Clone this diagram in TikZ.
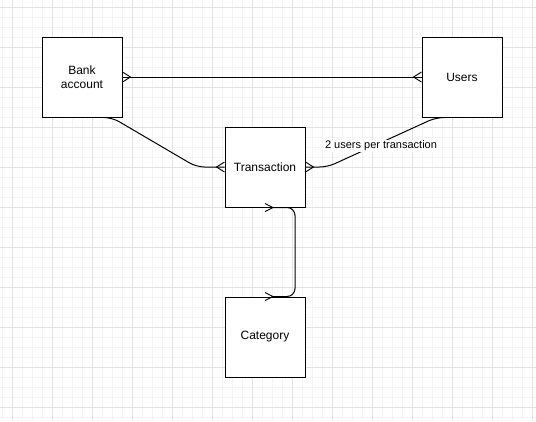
\documentclass[tikz,border=0pt]{standalone}
\usepackage{fontspec}
\setmainfont{Liberation Sans}
\definecolor{gminor}{HTML}{F4F4F4}
\definecolor{gmajor}{HTML}{E3E3E3}
\begin{document}
\begin{tikzpicture}[x=1pt,y=-1pt,
  entity/.style={draw=black, line width=1pt, fill=white, minimum width=80pt, minimum height=80pt, inner sep=0pt, align=center, font=\fontsize{12}{14}\selectfont},
  conn/.style={draw=black, line width=1pt, rounded corners=8pt},
  foot/.style={draw=black, line width=0.9pt},
  lbl/.style={fill=white, inner sep=1pt, font=\fontsize{11}{13}\selectfont}]
\useasboundingbox (0,0) rectangle (536,421);
\fill[white] (0,0) rectangle (536,421);
\foreach \x in {2,12,...,532} \draw[gminor, line width=1pt] (\x,0) -- (\x,421);
\foreach \y in {7,17,...,417} \draw[gminor, line width=1pt] (0,\y) -- (536,\y);
\foreach \x in {12,52,...,532} \draw[gmajor, line width=1pt] (\x,0) -- (\x,421);
\foreach \y in {7,47,...,407} \draw[gmajor, line width=1pt] (0,\y) -- (536,\y);

\node[entity] (Bank) at (82,77) {Bank\\account};
\node[entity] (Users) at (462,77) {Users};
\node[entity] (Transaction) at (265,167) {Transaction};
\node[entity] (Category) at (265,337) {Category};

% Bank -- Users
\draw[conn] (Bank.east) -- (Users.west);
% Bank -- Transaction
\draw[conn] ([xshift=22pt]Bank.south) -- ([xshift=30pt]Bank.south) -- ([xshift=-28pt]Transaction.west) -- (Transaction.west);
% Users -- Transaction
\draw[conn] ([xshift=-18pt]Users.south) -- ([xshift=-26pt]Users.south) -- ([xshift=22pt]Transaction.east) -- (Transaction.east);
\node[lbl] (label) at (381,146) {2 users per transaction};
% Transaction -- Category
\draw[conn] ([xshift=8pt]Transaction.south) -- ([xshift=30pt]Transaction.south) -- ([xshift=30pt]Category.north) -- ([xshift=8pt]Category.north);

% crow's feet
\draw[foot] ([yshift=5pt]Bank.east) -- ([xshift=8pt]Bank.east) -- ([yshift=-5pt]Bank.east);
\draw[foot] ([yshift=5pt]Users.west) -- ([xshift=-8pt]Users.west) -- ([yshift=-5pt]Users.west);
\draw[foot] ([yshift=5pt]Transaction.west) -- ([xshift=-8pt]Transaction.west) -- ([yshift=-5pt]Transaction.west);
\draw[foot] ([yshift=5pt]Transaction.east) -- ([xshift=8pt]Transaction.east) -- ([yshift=-5pt]Transaction.east);
% open arrowheads
\draw[foot] ([yshift=4pt]Transaction.south) -- ([xshift=8pt]Transaction.south) -- ([yshift=-4pt]Transaction.south);
\draw[foot] ([yshift=4pt]Category.north) -- ([xshift=8pt]Category.north) -- ([yshift=-4pt]Category.north);
\end{tikzpicture}
\end{document}
